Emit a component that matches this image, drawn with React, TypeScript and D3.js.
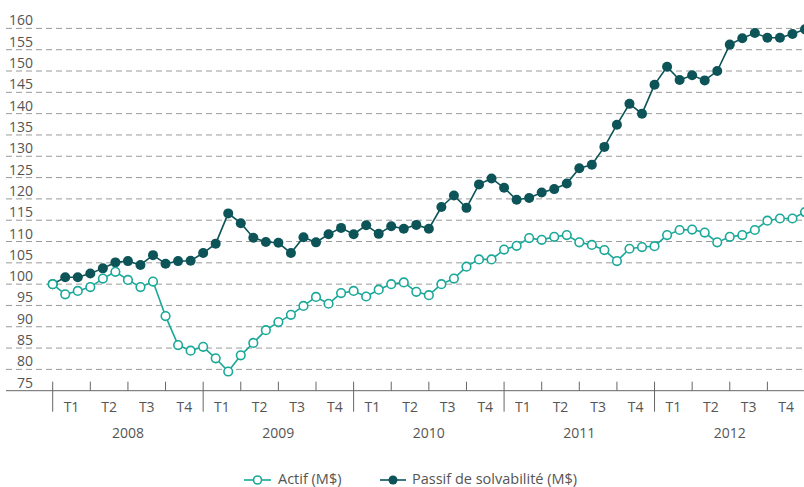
import React from 'react';
import { scaleLinear, line, range } from 'd3';

const years = ['2008', '2009', '2010', '2011', '2012'];
const quarters = ['T1', 'T2', 'T3', 'T4'];
const yTicks = [75, 80, 85, 90, 95, 100, 105, 110, 115, 120, 125, 130, 135, 140, 145, 150, 155, 160];

// monthly index, 2008 start = 100
const actif = [
  100, 97.6, 98.4, 99.3, 101.3, 102.9, 101.0, 99.3, 100.6, 92.5, 85.7, 84.4, 85.3,
  82.6, 79.5, 83.3, 86.2, 89.2, 91.1, 92.8, 94.9, 97.0, 95.4, 97.9, 98.4,
  97.1, 98.7, 100.0, 100.4, 98.2, 97.4, 100.0, 101.3, 104.1, 105.8, 105.8, 108.1,
  109.0, 110.8, 110.4, 111.1, 111.5, 109.8, 109.2, 108.0, 105.4, 108.3, 108.7, 108.9,
  111.5, 112.7, 112.8, 112.1, 109.8, 111.1, 111.5, 112.7, 114.9, 115.4, 115.4, 116.9,
];
const passif = [
  100, 101.6, 101.6, 102.5, 103.7, 105.1, 105.4, 104.5, 106.8, 104.8, 105.4, 105.5, 107.3,
  109.5, 116.6, 114.3, 110.9, 109.9, 109.7, 107.3, 111.0, 109.8, 111.7, 113.2, 111.7,
  113.8, 111.8, 113.6, 113.0, 113.9, 113.0, 118.1, 120.8, 117.9, 123.4, 124.8, 122.6,
  119.8, 120.2, 121.5, 122.3, 123.6, 127.2, 128.0, 132.2, 137.4, 142.3, 140.0, 146.8,
  151.0, 147.9, 149.0, 147.8, 150.0, 156.2, 157.7, 158.9, 157.8, 157.8, 158.7, 159.8,
];

const W = 804;
const H = 487;
const teal = '#1aa898';
const dark = '#0c5458';
const textColor = '#555';
const font = "'Open Sans', sans-serif";

const App = () => {
  const x = scaleLinear().domain([0, 60]).range([52.7, 805]);
  const y = scaleLinear().domain([75, 160]).range([390.7, 28.4]);
  const axisY = y(75);

  const path = line<number>()
    .x((d, i) => x(i))
    .y(d => y(d));

  const quarterTicks = range(0, 61, 3);

  return (
    <svg width={W} height={H} style={{ position: 'absolute', left: 0, top: 0, background: '#fff' }}>
      {/* grid + y labels */}
      {yTicks.map(t => (
        <g key={`g-${t}`}>
          {t > 75 && (
            <line x1={6} x2={W} y1={y(t)} y2={y(t)} stroke="#9a9a9a" strokeWidth={1} strokeDasharray="6,4" />
          )}
          <text x={33} y={y(t) - 3} textAnchor="end" fontFamily={font} fontSize={14} fill={textColor}>
            {t}
          </text>
        </g>
      ))}

      {/* x axis */}
      <line x1={6} x2={W} y1={axisY} y2={axisY} stroke="#666" strokeWidth={1} />
      {quarterTicks.map(m => (
        <line
          key={`q-${m}`}
          x1={x(m)}
          x2={x(m)}
          y1={axisY - 9}
          y2={m % 12 === 0 ? axisY + 21 : axisY}
          stroke="#666"
          strokeWidth={1}
        />
      ))}
      {years.map((yr, yi) => (
        <g key={`yr-${yr}`}>
          {quarters.map((q, qi) => (
            <text
              key={`${yr}-${q}`}
              x={x(yi * 12 + qi * 3 + 1.5)}
              y={axisY + 21}
              textAnchor="middle"
              fontFamily={font}
              fontSize={14}
              fill={textColor}
            >
              {q}
            </text>
          ))}
          <text
            x={x(yi * 12 + 6)}
            y={axisY + 47}
            textAnchor="middle"
            fontFamily={font}
            fontSize={14}
            fill={textColor}
          >
            {yr}
          </text>
        </g>
      ))}

      {/* series */}
      <path d={path(passif) || ''} fill="none" stroke={dark} strokeWidth={1.6} />
      {passif.map((v, i) => (
        <circle key={`p-${i}`} cx={x(i)} cy={y(v)} r={5} fill={dark} />
      ))}
      <path d={path(actif) || ''} fill="none" stroke={teal} strokeWidth={1.6} />
      {actif.map((v, i) => (
        <circle key={`a-${i}`} cx={x(i)} cy={y(v)} r={4.3} fill="#fff" stroke={teal} strokeWidth={1.6} />
      ))}

      {/* legend */}
      <g>
        <line x1={244} x2={271} y1={480} y2={480} stroke={teal} strokeWidth={1.6} />
        <circle cx={257.5} cy={480} r={4} fill="#fff" stroke={teal} strokeWidth={1.6} />
        <text x={278} y={483.5} fontFamily={font} fontSize={14.5} fill={textColor}>Actif (M$)</text>
        <line x1={380} x2={406} y1={480} y2={480} stroke={dark} strokeWidth={1.6} />
        <circle cx={393} cy={480} r={4.5} fill={dark} />
        <text x={412} y={483.5} fontFamily={font} fontSize={14.5} fill={textColor}>Passif de solvabilité (M$)</text>
      </g>
    </svg>
  );
};

export default App;
